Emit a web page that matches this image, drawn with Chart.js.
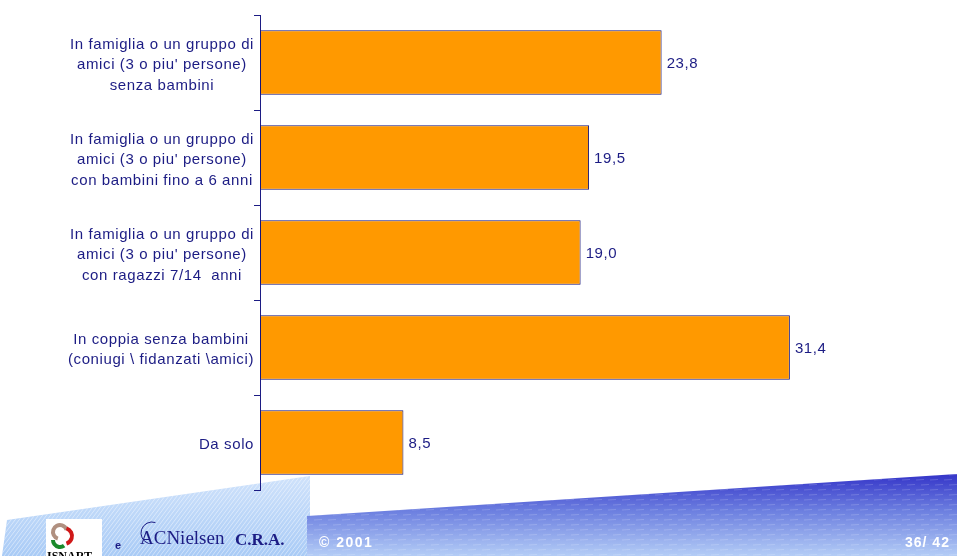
<!DOCTYPE html>
<html>
<head>
<meta charset="utf-8">
<script src="https://cdn.jsdelivr.net/npm/chart.js@4.4.0/dist/chart.umd.min.js"></script>
<style>
  html, body { margin: 0; padding: 0; background: #fff; }
  #wrap { width: 957px; height: 556px; position: relative; }
</style>
</head>
<body>
<div id="wrap"><canvas id="chart"></canvas></div>
<script>
// Chart data
const categories = [
    ['In famiglia o un gruppo di', "amici (3 o piu' persone)", 'senza bambini'],
    ['In famiglia o un gruppo di', "amici (3 o piu' persone)", 'con bambini fino a 6 anni'],
    ['In famiglia o un gruppo di', "amici (3 o piu' persone)", 'con ragazzi 7/14  anni'],
    ['In coppia senza bambini', '(coniugi \\ fidanzati \\amici)'],
    ['Da solo']
];
const values = [23.8, 19.5, 19.0, 31.4, 8.5];
const xMax = 40;

const navy = '#1c1c84';
const orange = '#ff9900';
const labelFont = "15px 'Liberation Sans', Arial, sans-serif";

// Footer band, logos and page number
const footerPlugin = {
    id: 'footer',
    beforeDraw(chart) {
        const ctx = chart.ctx;
        ctx.save();
        ctx.letterSpacing = '0px';
        // light wedge on the left
        ctx.beginPath();
        ctx.moveTo(7, 520);
        ctx.lineTo(310, 476);
        ctx.lineTo(310, 556);
        ctx.lineTo(2, 556);
        ctx.closePath();
        let g = ctx.createLinearGradient(0, 476, 0, 556);
        g.addColorStop(0, '#cfe2fb');
        g.addColorStop(1, '#a9cbf6');
        ctx.fillStyle = g;
        ctx.fill();
        ctx.clip();
        ctx.strokeStyle = 'rgba(255,255,255,0.45)';
        ctx.lineWidth = 1;
        for (let i = -100; i < 420; i += 4) {
            ctx.beginPath();
            ctx.moveTo(i, 556);
            ctx.lineTo(i + 60, 476);
            ctx.stroke();
        }
        ctx.restore();

        // dark blue band
        ctx.save();
        ctx.beginPath();
        ctx.moveTo(307, 516);
        ctx.lineTo(957, 474);
        ctx.lineTo(957, 556);
        ctx.lineTo(307, 556);
        ctx.closePath();
        g = ctx.createLinearGradient(0, 474, 0, 556);
        g.addColorStop(0, '#3434c8');
        g.addColorStop(0.45, '#6c7fe0');
        g.addColorStop(1, '#b4cdf6');
        ctx.fillStyle = g;
        ctx.fill();
        ctx.clip();
        ctx.strokeStyle = 'rgba(255,255,255,0.18)';
        for (let y = 470; y < 560; y += 5) {
            for (let x = 300 + (y % 10); x < 960; x += 14) {
                ctx.beginPath();
                ctx.moveTo(x, y);
                ctx.lineTo(x + 8, y - 0.5);
                ctx.stroke();
            }
        }
        ctx.restore();

        // ISNART logo box
        ctx.save();
        ctx.letterSpacing = '0px';
        ctx.fillStyle = '#ffffff';
        ctx.fillRect(46, 519, 56, 37);
        ctx.lineWidth = 4;
        ctx.strokeStyle = '#b09080';
        ctx.beginPath();
        ctx.arc(60, 532, 7, Math.PI * 0.6, Math.PI * 1.9);
        ctx.stroke();
        ctx.strokeStyle = '#d01818';
        ctx.beginPath();
        ctx.arc(64, 536, 8, Math.PI * 1.6, Math.PI * 0.4);
        ctx.stroke();
        ctx.strokeStyle = '#1a8a2a';
        ctx.beginPath();
        ctx.arc(60, 540, 7, Math.PI * 0.3, Math.PI * 1.0);
        ctx.stroke();
        ctx.fillStyle = '#000';
        ctx.font = "bold 12px 'Liberation Serif', 'Times New Roman', serif";
        ctx.textBaseline = 'alphabetic';
        ctx.fillText('ISNART', 47, 560);

        ctx.fillStyle = navy;
        ctx.font = "bold 11px 'Liberation Sans', Arial, sans-serif";
        ctx.fillText('e', 115, 549);
        ctx.font = "19px 'Liberation Serif', 'Times New Roman', serif";
        ctx.fillText('ACNielsen', 140, 544);
        ctx.beginPath();
        ctx.strokeStyle = navy;
        ctx.lineWidth = 1;
        ctx.arc(152, 533, 11, Math.PI * 0.6, Math.PI * 1.6);
        ctx.stroke();
        ctx.font = "bold 17px 'Liberation Serif', 'Times New Roman', serif";
        ctx.fillText('C.R.A.', 235, 545);

        ctx.fillStyle = '#ffffff';
        ctx.font = "bold 14px 'Liberation Sans', Arial, sans-serif";
        ctx.letterSpacing = '1.5px';
        ctx.fillText('© 2001', 319, 547);
        ctx.letterSpacing = '1px';
        ctx.fillText('36/ 42', 905, 547);
        ctx.restore();
    }
};

// Category labels: block right-aligned to the axis, lines centered inside
const categoryLabelPlugin = {
    id: 'categoryLabels',
    afterDraw(chart) {
        const ctx = chart.ctx;
        const yScale = chart.scales.y;
        const lineHeight = 20.5;
        ctx.save();
        ctx.font = labelFont;
        ctx.letterSpacing = '0.6px';
        ctx.fillStyle = navy;
        ctx.textBaseline = 'middle';
        ctx.textAlign = 'center';
        categories.forEach((lines, i) => {
            const cy = yScale.getPixelForValue(i) + 2.5;
            const widest = Math.max(...lines.map(l => ctx.measureText(l).width));
            const cx = 254 - widest / 2;
            const top = cy - (lines.length - 1) * lineHeight / 2;
            lines.forEach((l, j) => ctx.fillText(l, cx, top + j * lineHeight));
        });
        ctx.letterSpacing = '0px';
        ctx.restore();
    }
};

// Value labels at the end of each bar
const valueLabelPlugin = {
    id: 'valueLabels',
    afterDatasetsDraw(chart) {
        const ctx = chart.ctx;
        const meta = chart.getDatasetMeta(0);
        ctx.save();
        ctx.font = labelFont;
        ctx.letterSpacing = '0.6px';
        ctx.fillStyle = navy;
        ctx.textBaseline = 'middle';
        ctx.textAlign = 'left';
        meta.data.forEach((bar, i) => {
            ctx.fillText(values[i].toFixed(1).replace('.', ','), bar.x + 5, bar.y + 1);
        });
        ctx.letterSpacing = '0px';
        ctx.restore();
    }
};

const ctx = document.getElementById('chart').getContext('2d');
new Chart(ctx, {
    type: 'bar',
    data: {
        labels: categories.map(c => c.join(' ')),
        datasets: [{
            data: values,
            backgroundColor: orange,
            borderColor: '#14147a',
            borderWidth: 1,
            borderSkipped: false,
            categoryPercentage: 0.68,
            barPercentage: 1
        }]
    },
    options: {
        indexAxis: 'y',
        responsive: true,
        maintainAspectRatio: false,
        animation: false,
        layout: { padding: { top: 15, bottom: 66, left: 0, right: 22 } },
        plugins: {
            legend: { display: false },
            tooltip: { enabled: false }
        },
        scales: {
            x: {
                display: false,
                min: 0,
                max: xMax
            },
            y: {
                grid: {
                    offset: true,
                    drawOnChartArea: false,
                    drawTicks: true,
                    tickLength: 6,
                    color: navy
                },
                border: { color: navy, width: 1 },
                ticks: { display: false },
                afterFit(scale) { scale.width = 260; }
            }
        }
    },
    plugins: [footerPlugin, categoryLabelPlugin, valueLabelPlugin]
});
</script>
</body>
</html>
